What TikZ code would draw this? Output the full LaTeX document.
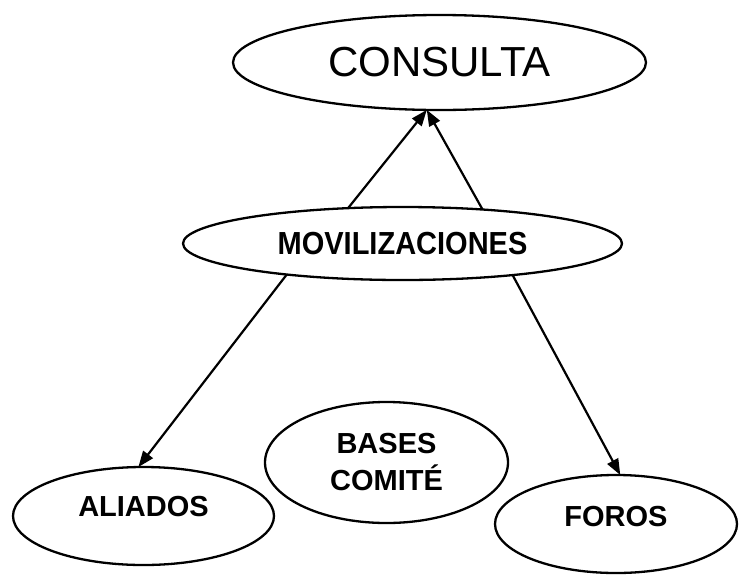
\documentclass[tikz,border=0pt]{standalone}
\usepackage{fontspec}
\setmainfont{Liberation Sans}
\usetikzlibrary{shapes.geometric,arrows.meta}
\tikzset{
  oval/.style={ellipse, draw=black, line width=2.3pt, inner sep=0pt, outer sep=0pt},
  boldlbl/.style={font=\fontsize{29}{37}\selectfont\bfseries},
  arr/.style={line width=2.2pt, -{Triangle[length=16pt,width=12pt]}}
}
\begin{document}
\begin{tikzpicture}[x=1pt,y=-1pt]
\useasboundingbox[fill=white] (0,0) rectangle (739,579);
\node[oval, minimum width=413pt, minimum height=95pt, font=\fontsize{42}{48}\selectfont] (consulta) at (439.5,62.5) {CONSULTA};
\node[oval, boldlbl, minimum width=439pt, minimum height=73pt] (movil) at (402.5,243.5) {\scalebox{1}[1.1]{MOVILIZACIONES}};
\node[oval, boldlbl, minimum width=261pt, minimum height=98pt, text height=1.8pt, text depth=0pt] (aliados) at (143.5,516) {ALIADOS};
\node[oval, boldlbl, align=center, minimum width=243pt, minimum height=121pt] (bases) at (386.5,462.5) {BASES\\COMITÉ};
\node[oval, boldlbl, minimum width=242pt, minimum height=98pt, text height=5.8pt, text depth=0pt] (foros) at (616,524) {FOROS};
\draw[arr] (movil.147.4) -- (consulta.255.3);
\draw[arr] (movil.23.7) -- (consulta.255.3);
\draw[arr] (movil.195.3) -- (aliados.96.4);
\draw[arr] (movil.344.4) -- (foros.85.3);
\end{tikzpicture}
\end{document}
